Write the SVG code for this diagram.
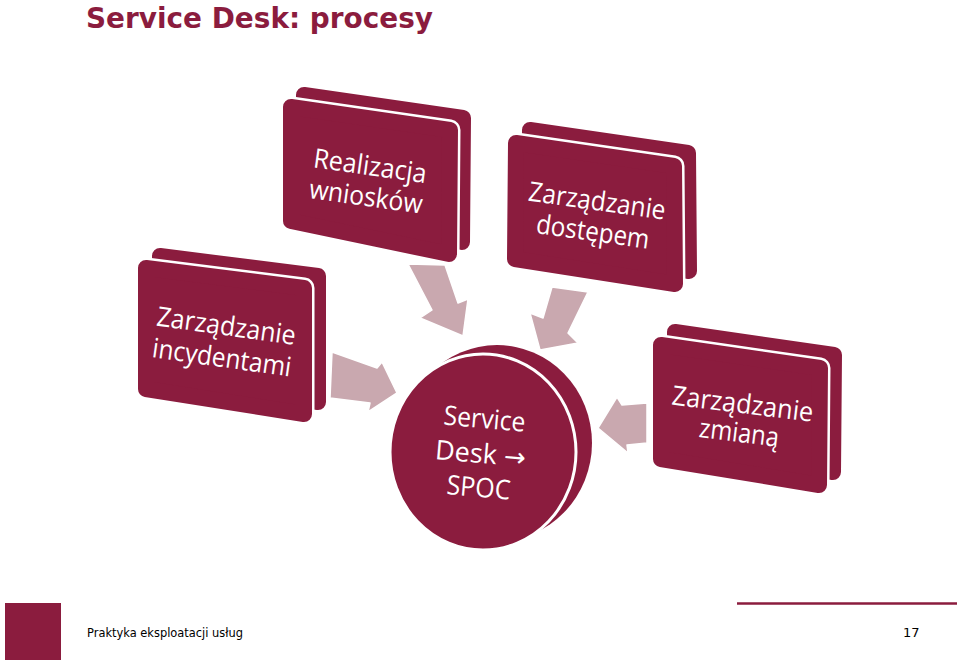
<svg xmlns="http://www.w3.org/2000/svg" width="960" height="661" viewBox="0 0 960 661">
<style>
.slab{fill:#8b1c3e;stroke:#8b1c3e;stroke-width:16;stroke-linejoin:round}
.gap{fill:#ffffff;stroke:#ffffff;stroke-width:21;stroke-linejoin:round}
.face{fill:#8b1c3e;stroke:#8b1c3e;stroke-width:16;stroke-linejoin:round}
.lbl{font-family:"Open Sans","Noto Sans",sans-serif;font-size:27px;fill:#ffffff;text-anchor:middle}
.arrow{fill:#c9a8af;stroke:#ffffff;stroke-width:1.5;stroke-linejoin:round}
</style>
<rect width="960" height="661" fill="#ffffff"/>
<text x="86" y="28" font-family="DejaVu Sans, Verdana, sans-serif" font-weight="bold" font-size="29" fill="#8b1c3e" textLength="347" lengthAdjust="spacingAndGlyphs">Service Desk: procesy</text>

<g id="connectors">
<path class="arrow" d="M408,264 L445,265 L458,303 L468,299 L463,336 L420,318 L432,310 Z"/>
<path class="arrow" d="M552,287 L588,292 L568,333 L578,343 L540,350 L530,313 L543,318 Z"/>
<path class="arrow" d="M332,352 L377,368 L382,362 L397,393 L368,412 L370,403 L330,398 Z"/>
<path class="arrow" d="M647,403 L622,405 L617,397 L598,428 L628,453 L627,445 L647,443 Z"/>
</g>

<g id="node-realizacja">
<polygon class="slab" points="304,95 463,118 462,242 304,209"/>
<polygon class="gap" points="291,107 450,130 449,254 291,221"/>
<polygon class="face" points="291,107 450,130 449,254 291,221"/>
<g transform="rotate(8 367 189)">
<text class="lbl" x="367" y="175" textLength="114" lengthAdjust="spacingAndGlyphs">Realizacja</text>
<text class="lbl" x="367" y="206" textLength="114" lengthAdjust="spacingAndGlyphs">wniosków</text>
</g>
</g>

<g id="node-dostep">
<polygon class="slab" points="530,130 688,153 689,271 529,246"/>
<polygon class="gap" points="516,143 674,166 675,284 515,259"/>
<polygon class="face" points="516,143 674,166 675,284 515,259"/>
<g transform="rotate(8 594 224)">
<text class="lbl" x="594" y="210" textLength="138" lengthAdjust="spacingAndGlyphs">Zarządzanie</text>
<text class="lbl" x="594" y="241" textLength="114" lengthAdjust="spacingAndGlyphs">dostępem</text>
</g>
</g>

<g id="node-incydenty">
<polygon class="slab" points="160,256 318,276 318,402 160,377"/>
<polygon class="gap" points="146,268 304,288 304,414 146,389"/>
<polygon class="face" points="146,268 304,288 304,414 146,389"/>
<g transform="rotate(8 223 350)">
<text class="lbl" x="223" y="335" textLength="140" lengthAdjust="spacingAndGlyphs">Zarządzanie</text>
<text class="lbl" x="223" y="367" textLength="140" lengthAdjust="spacingAndGlyphs">incydentami</text>
</g>
</g>

<g id="node-zmiana">
<polygon class="slab" points="675,332 834,355 833,472 675,446"/>
<polygon class="gap" points="661,345 820,368 819,485 661,459"/>
<polygon class="face" points="661,345 820,368 819,485 661,459"/>
<g transform="rotate(7 740 426)">
<text class="lbl" x="740" y="413" textLength="142" lengthAdjust="spacingAndGlyphs">Zarządzanie</text>
<text class="lbl" x="740" y="442" textLength="80" lengthAdjust="spacingAndGlyphs">zmianą</text>
</g>
</g>

<g id="node-servicedesk">
<ellipse cx="497" cy="443" rx="95" ry="98" fill="#8b1c3e"/>
<ellipse cx="483" cy="452" rx="93" ry="98" fill="#8b1c3e" stroke="#ffffff" stroke-width="3"/>
<g transform="rotate(5 481 460)">
<text class="lbl" x="481" y="428" textLength="82" lengthAdjust="spacingAndGlyphs">Service</text>
<text class="lbl" x="480" y="463">Desk <tspan font-family="DejaVu Sans, sans-serif" font-size="26">→</tspan></text>
<text class="lbl" x="481" y="497" textLength="64" lengthAdjust="spacingAndGlyphs">SPOC</text>
</g>
</g>

<rect x="5" y="603" width="56" height="57" fill="#8b1c3e"/>
<line x1="737" y1="603.5" x2="957" y2="603.5" stroke="#8b1c3e" stroke-width="2.5"/>
<text x="87" y="637" font-family="DejaVu Sans, Tahoma, sans-serif" font-size="13" fill="#000000" textLength="156" lengthAdjust="spacingAndGlyphs">Praktyka eksploatacji usług</text>
<text x="903" y="637" font-family="DejaVu Sans, Tahoma, sans-serif" font-size="13" fill="#000000">17</text>
</svg>
